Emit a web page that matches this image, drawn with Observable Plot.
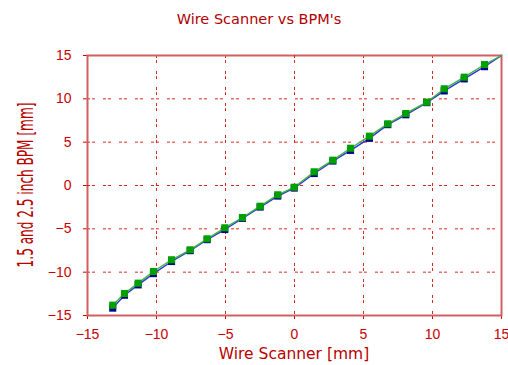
<!DOCTYPE html>
<html>
<head>
<meta charset="utf-8">
<script src="https://cdn.jsdelivr.net/npm/d3@7"></script>
<script src="https://cdn.jsdelivr.net/npm/@observablehq/plot@0.6"></script>
<style>
  html, body { margin: 0; padding: 0; background: #fff; }
  #wrap { position: relative; width: 508px; height: 365px; overflow: hidden; }
  #wrap > svg { position: absolute; left: 0; top: 0; }
  #overlay { pointer-events: none; }
</style>
</head>
<body>
<div id="wrap"></div>
<script>
// ---- data ----
const wireScanner = [-13.17, -12.32, -11.33, -10.22, -8.91, -7.56, -6.33, -5.05, -3.77, -2.49, -1.21, -0.02,
                     1.43, 2.78, 4.06, 5.43, 6.76, 8.07, 9.59, 10.85, 12.30, 13.77];
const bpmGreen    = [-13.81, -12.46, -11.27, -9.92, -8.57, -7.42, -6.15, -4.88, -3.69, -2.39, -1.07, -0.20,
                     1.58, 2.92, 4.30, 5.69, 7.12, 8.31, 9.61, 11.16, 12.50, 13.96];
const bpmBlue     = [-14.15, -12.66, -11.47, -10.17, -8.77, -7.52, -6.25, -5.08, -3.79, -2.49, -1.22, -0.30,
                     1.38, 2.82, 4.05, 5.44, 7.02, 8.16, 9.56, 10.91, 12.30, 13.71];
const lineEndWire = 15;
const lineEndBpm = 15;
const xTicks = [-15, -10, -5, 0, 5, 10, 15];
const yTicks = [-15, -10, -5, 0, 5, 10, 15];
const gridTicks = [-10, -5, 5, 10];
const zeroTick = [0];
const titleText = "Wire Scanner vs BPM's";
const xLabelText = "Wire Scanner [mm]";
const yLabelText = "1.5 and 2.5 inch BPM [mm]";

const green = wireScanner.map((w, i) => ({x: w, y: bpmGreen[i]}));
const blue = wireScanner.map((w, i) => ({x: w, y: bpmBlue[i]}));
const greenLine = [...green, {x: lineEndWire, y: lineEndBpm}];
const blueLine = [...blue, {x: lineEndWire, y: lineEndBpm}];

const red = "#c80000";
const gridRed = "#d81010";
const fmt = d3.format("d");
const gridStyle = {stroke: gridRed, strokeOpacity: 0.9, strokeWidth: 1, strokeDasharray: "3,2,3,8"};

const chart = Plot.plot({
  width: 508,
  height: 365,
  marginLeft: 87,
  marginRight: 7,
  marginTop: 55,
  marginBottom: 50,
  style: {fontFamily: "'Liberation Sans', sans-serif", fontSize: "14px", color: red, background: "white"},
  x: {domain: [-15, 15], label: null},
  y: {domain: [-15, 15], label: null},
  marks: [
    Plot.ruleX(gridTicks, gridStyle),
    Plot.ruleY(gridTicks, gridStyle),
    Plot.axisX(xTicks, {tickSize: 4, tickPadding: 10, tickFormat: fmt, stroke: red, fill: red, label: null}),
    Plot.axisY(yTicks, {tickSize: 4, tickPadding: 12, tickFormat: fmt, stroke: red, fill: red, label: null}),
    Plot.frame({stroke: "#d06060", strokeWidth: 2}),
    Plot.ruleX(zeroTick, gridStyle),
    Plot.ruleY(zeroTick, gridStyle),
    Plot.line(blueLine, {x: "x", y: "y", stroke: "#3030e0", strokeWidth: 1.4}),
    Plot.dot(blue, {x: "x", y: "y", symbol: "square", r: 4, fill: "#00008c", stroke: "none"}),
    Plot.line(greenLine, {x: "x", y: "y", stroke: "#3cb43c", strokeWidth: 1.4}),
    Plot.dot(green, {x: "x", y: "y", symbol: "square", r: 4, fill: "#00a000", stroke: "none"})
  ]
});
document.getElementById("wrap").appendChild(chart);

// overlay with title and axis labels
const ns = "http://www.w3.org/2000/svg";
const ov = document.createElementNS(ns, "svg");
ov.setAttribute("id", "overlay");
ov.setAttribute("width", 508);
ov.setAttribute("height", 365);
function addText(str, attrs) {
  const t = document.createElementNS(ns, "text");
  for (const k in attrs) t.setAttribute(k, attrs[k]);
  t.textContent = str;
  ov.appendChild(t);
}
addText(titleText, {x: 259, y: 24, "text-anchor": "middle", fill: "#b00000",
  "font-family": "'DejaVu Sans', sans-serif", "font-size": "14.5px"});
addText(xLabelText, {x: 294, y: 359, "text-anchor": "middle", fill: "#b80000",
  "font-family": "'DejaVu Sans', sans-serif", "font-size": "15.5px"});
addText(yLabelText, {x: 0, y: 0, transform: "translate(33,185) rotate(-90) scale(0.59,1)", "text-anchor": "middle",
  fill: "#b80000", "font-family": "'DejaVu Sans', sans-serif", "font-size": "20.5px"});
document.getElementById("wrap").appendChild(ov);
</script>
</body>
</html>
